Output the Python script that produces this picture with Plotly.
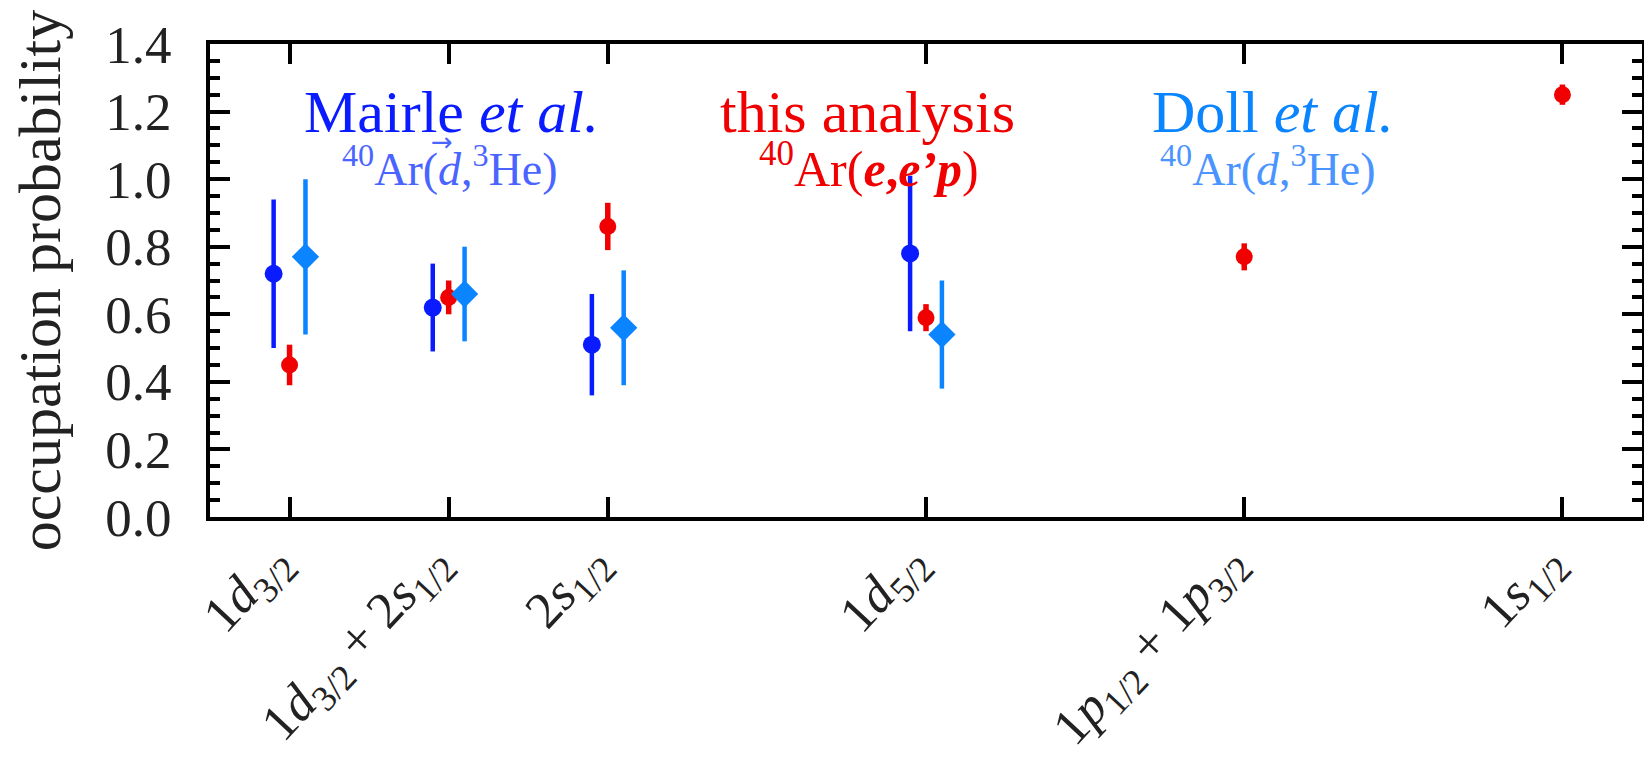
import plotly.graph_objects as go

# ---- data ----
cat_pos = [1, 2, 3, 5, 7, 9]
cat_labels = [
    "1<i>d</i><sub>3/2</sub>",
    "1<i>d</i><sub>3/2</sub> + 2<i>s</i><sub>1/2</sub>",
    "2<i>s</i><sub>1/2</sub>",
    "1<i>d</i><sub>5/2</sub>",
    "1<i>p</i><sub>1/2</sub> + 1<i>p</i><sub>3/2</sub>",
    "1<i>s</i><sub>1/2</sub>",
]
y_ticks = [0, 0.2, 0.4, 0.6, 0.8, 1.0, 1.2, 1.4]
y_ticktext = ["0.0", "0.2", "0.4", "0.6", "0.8", "1.0", "1.2", "1.4"]

mairle_pos = [1, 2, 3, 5]
mairle_val = [0.72, 0.62, 0.51, 0.78]
mairle_err = [0.22, 0.13, 0.15, 0.23]

this_pos = [1, 2, 3, 5, 7, 9]
this_val = [0.45, 0.65, 0.86, 0.59, 0.77, 1.25]
this_err = [0.06, 0.05, 0.07, 0.04, 0.04, 0.03]

doll_pos = [1, 2, 3, 5]
doll_val = [0.77, 0.66, 0.56, 0.54]
doll_err = [0.23, 0.14, 0.17, 0.16]

offset = 0.1

C_MAIRLE = "#0a1cff"
C_MAIRLE_TXT2 = "#4a64ff"
C_THIS = "#f00000"
C_DOLL = "#0a84ff"
C_DOLL_TXT2 = "#4a94ff"

FONT = "Liberation Serif"
TXT = "#222222"

fig = go.Figure()

fig.add_trace(go.Scatter(
    x=[p - offset for p in mairle_pos], y=mairle_val, mode="markers",
    marker=dict(symbol="circle", size=18, color=C_MAIRLE),
    error_y=dict(type="data", array=mairle_err, visible=True, color=C_MAIRLE, thickness=4.5, width=0),
    name="Mairle et al."))

fig.add_trace(go.Scatter(
    x=this_pos, y=this_val, mode="markers",
    marker=dict(symbol="circle", size=17, color=C_THIS),
    error_y=dict(type="data", array=this_err, visible=True, color=C_THIS, thickness=5.5, width=0),
    name="this analysis"))

fig.add_trace(go.Scatter(
    x=[p + offset for p in doll_pos], y=doll_val, mode="markers",
    marker=dict(symbol="diamond", size=21, color=C_DOLL),
    error_y=dict(type="data", array=doll_err, visible=True, color=C_DOLL, thickness=4.5, width=0),
    name="Doll et al."))

annos = [
    (2.02, 1.20, "Mairle <i>et al.</i>", C_MAIRLE, 60),
    (2.01, 1.04, "<sup>40</sup>Ar(<i>d</i>,<sup>3</sup>He)", C_MAIRLE_TXT2, 46),
    (4.63, 1.20, "this analysis", C_THIS, 60),
    (4.64, 1.04, "<sup>40</sup>Ar(<b><i>e</i>,<i>e\u2019p</i></b>)", C_THIS, 50),
    (7.18, 1.20, "Doll <i>et al.</i>", C_DOLL, 60),
    (7.15, 1.04, "<sup>40</sup>Ar(<i>d</i>,<sup>3</sup>He)", C_DOLL_TXT2, 46),
]
for x, y, t, c, s in annos:
    fig.add_annotation(x=x, y=y, xref="x", yref="y", text=t, showarrow=False,
                       font=dict(family=FONT, size=s, color=c),
                       xanchor="center", yanchor="middle")

# vector arrow over the d in Mairle's reaction label
fig.add_annotation(x=1.955, y=1.11, xref="x", yref="y", text="\u2192", showarrow=False,
                   font=dict(family="DejaVu Sans", size=26, color=C_MAIRLE_TXT2),
                   xanchor="center", yanchor="middle")

fig.update_layout(
    width=1644, height=759,
    margin=dict(l=210, r=2, t=44, b=242),
    paper_bgcolor="white", plot_bgcolor="white",
    showlegend=False,
    font=dict(family=FONT, size=52, color=TXT),
)

fig.update_xaxes(
    range=[0.5, 9.5], tickmode="array", tickvals=cat_pos, ticktext=cat_labels,
    tickangle=-47, ticks="inside", ticklen=20, tickwidth=3.5, tickcolor="black",
    showline=True, linewidth=4, linecolor="black", mirror="ticks",
    showgrid=False, zeroline=False, automargin=False,
    tickfont=dict(family=FONT, size=52, color=TXT),
    ticklabelstandoff=-12, ticklabelshift=-16,
)

fig.update_yaxes(
    range=[0, 1.4], tickmode="array", tickvals=y_ticks, ticktext=y_ticktext,
    ticks="inside", ticklen=20, tickwidth=3.5, tickcolor="black",
    minor=dict(dtick=0.05, ticks="inside", ticklen=10, tickwidth=3.5, tickcolor="black", showgrid=False),
    showline=True, linewidth=4, linecolor="black", mirror="ticks",
    showgrid=False, zeroline=False, automargin=False,
    tickfont=dict(family=FONT, size=53, color=TXT),
    ticklabelstandoff=24,
    title=dict(text="occupation probability", font=dict(family=FONT, size=60, color=TXT), standoff=26),
)

fig.write_html("out.html")
